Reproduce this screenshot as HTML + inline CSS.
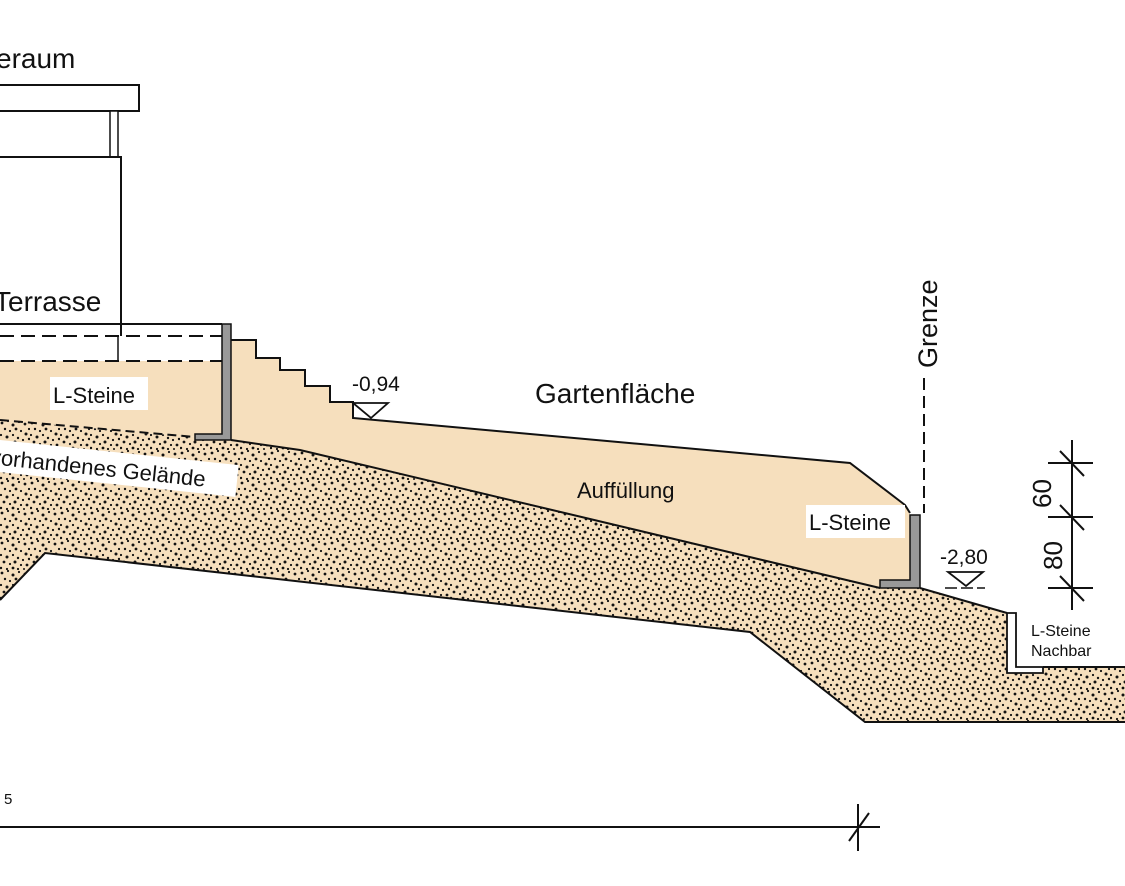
<!DOCTYPE html>
<html><head><meta charset="utf-8"><style>
html,body{margin:0;padding:0;background:#fff}
svg{display:block}
text{font-family:"Liberation Sans",Arial,sans-serif;fill:#111}
</style></head><body>
<svg width="1125" height="886" viewBox="0 0 1125 886" xmlns="http://www.w3.org/2000/svg">
<defs>
<pattern id="g" width="30" height="30" patternUnits="userSpaceOnUse">
<rect width="30" height="30" fill="#f6dfbd"/>
<g fill="#111">
<circle cx="2" cy="3" r="1.4"/><circle cx="8" cy="1" r="1.1"/><circle cx="13" cy="5" r="1.5"/><circle cx="19" cy="2" r="1.1"/><circle cx="25" cy="4" r="1.4"/><circle cx="29" cy="9" r="1.1"/>
<circle cx="5" cy="9" r="1.2"/><circle cx="10" cy="11" r="1.1"/><circle cx="16" cy="9" r="1.4"/><circle cx="21" cy="11" r="1.1"/><circle cx="26" cy="14" r="1.5"/>
<circle cx="1" cy="15" r="1.1"/><circle cx="7" cy="17" r="1.5"/><circle cx="13" cy="15" r="1.1"/><circle cx="18" cy="18" r="1.2"/><circle cx="23" cy="20" r="1.1"/><circle cx="29" cy="19" r="1.2"/>
<circle cx="4" cy="22" r="1.4"/><circle cx="10" cy="24" r="1.1"/><circle cx="15" cy="22" r="1.5"/><circle cx="21" cy="25" r="1.1"/><circle cx="27" cy="25" r="1.4"/>
<circle cx="1" cy="28" r="1.2"/><circle cx="7" cy="29" r="1.1"/><circle cx="13" cy="28" r="1.4"/><circle cx="18" cy="29" r="1.1"/><circle cx="24" cy="29" r="1"/>
</g>
</pattern>
</defs>

<path d="M0,420 L195,437 L231,440 L300,450 L880,588 L920,588 L1007,613 L1007,673 L1043,673 L1043,667 L1125,667 L1125,722 L865,722 L750,632 L45,553 L0,600 Z" fill="url(#g)" stroke="none"/>
<path d="M0,600 L45,553 L750,632 L865,722 L1125,722" fill="none" stroke="#111" stroke-width="2"/>
<path d="M920,588 L1007,613" fill="none" stroke="#111" stroke-width="2"/>
<path d="M1043,667 L1125,667" fill="none" stroke="#111" stroke-width="2"/>

<path d="M0,361 L222,361 L222,438 L195,437 L0,420 Z" fill="#f6dfbd"/>
<path d="M0,420 L195,437" stroke="#111" stroke-width="2" stroke-dasharray="9,5" fill="none"/>

<path d="M231,340 L256,340 L256,358 L280,358 L280,370 L305,370 L305,386 L330,386 L330,402 L353,402 L353,418 L850,463 L905,505 L910,515 L910,580 L880,588 L300,450 L231,440 Z" fill="#f6dfbd" stroke="none"/>
<path d="M231,340 L256,340 L256,358 L280,358 L280,370 L305,370 L305,386 L330,386 L330,402 L353,402 L353,418 L850,463 L905,505 L910,513" fill="none" stroke="#111" stroke-width="2"/>
<path d="M231,440 L300,450 L880,588" fill="none" stroke="#111" stroke-width="2"/>

<rect x="-5" y="85" width="144" height="26" fill="#fff" stroke="#111" stroke-width="2"/>
<rect x="110" y="111" width="8" height="46" fill="#fff" stroke="#111" stroke-width="1.5"/>
<path d="M0,157 L121,157 L121,336" fill="none" stroke="#111" stroke-width="2"/>
<text x="-4" y="68" font-size="28">eraum</text>
<text x="-6" y="311" font-size="28">Terrasse</text>

<path d="M0,324 L222,324" stroke="#111" stroke-width="2"/>
<path d="M0,336 L222,336 M0,361 L222,361" stroke="#111" stroke-width="2" stroke-dasharray="14,7"/>
<path d="M118,336 L118,361" stroke="#111" stroke-width="1.5"/>
<path d="M222,324 L231,324 L231,440 L195,440 L195,434 L222,434 Z" fill="#999" stroke="#111" stroke-width="1.5"/>

<path d="M910,515 L920,515 L920,588 L880,588 L880,580 L910,580 Z" fill="#999" stroke="#111" stroke-width="1.5"/>
<path d="M1007,613 L1016,613 L1016,667 L1043,667 L1043,673 L1007,673 Z" fill="#fff" stroke="#111" stroke-width="1.8"/>

<rect x="50" y="377" width="98" height="33" fill="#fff"/>
<text x="53" y="403" font-size="22">L-Steine</text>
<g transform="rotate(6 0 440)">
<rect x="-10" y="440" width="250" height="32" fill="#fff"/>
<text x="-8" y="465" font-size="22">vorhandenes Gelände</text>
</g>
<rect x="806" y="505" width="99" height="33" fill="#fff"/>
<text x="809" y="530" font-size="22">L-Steine</text>
<text x="535" y="403" font-size="28">Gartenfläche</text>
<text x="577" y="498" font-size="22">Auffüllung</text>
<text x="1031" y="636" font-size="16">L-Steine</text>
<text x="1031" y="656" font-size="16">Nachbar</text>

<text x="352" y="391" font-size="21">-0,94</text>
<path d="M353,403 L388,403 L371,418 Z" fill="#fff" stroke="#111" stroke-width="1.8"/>
<text x="940" y="564" font-size="21">-2,80</text>
<path d="M948,572 L983,572 L966,586 Z" fill="#fff" stroke="#111" stroke-width="1.8"/>
<path d="M945,588 L985,588" stroke="#111" stroke-width="1.5" stroke-dasharray="12,4"/>

<text transform="translate(937,368) rotate(-90)" font-size="27">Grenze</text>
<path d="M924,378 L924,513" stroke="#111" stroke-width="2" stroke-dasharray="12,6"/>

<path d="M1072,440 L1072,610" stroke="#111" stroke-width="2"/>
<path d="M1048,463 L1093,463 M1048,517 L1093,517 M1048,588 L1093,588" stroke="#111" stroke-width="2"/>
<path d="M1060,451 L1084,476 M1060,505 L1084,530 M1060,576 L1084,601" stroke="#111" stroke-width="2"/>
<text transform="translate(1051,508) rotate(-90)" font-size="26">60</text>
<text transform="translate(1062,570) rotate(-90)" font-size="26">80</text>

<path d="M0,827 L880,827" stroke="#111" stroke-width="2"/>
<path d="M858,804 L858,851" stroke="#111" stroke-width="2"/>
<path d="M849,841 L869,813" stroke="#111" stroke-width="2"/>
<text x="4" y="804" font-size="15">5</text>
</svg>
</body></html>
